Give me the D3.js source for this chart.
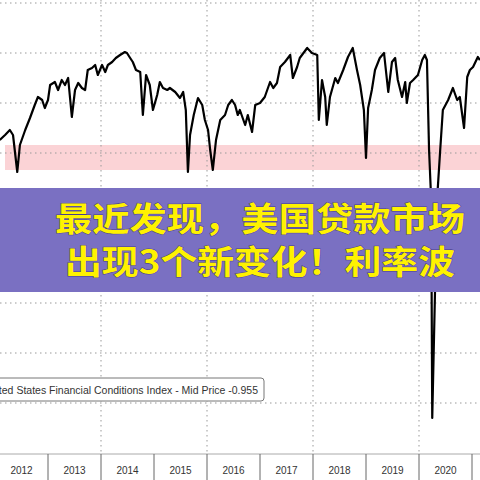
<!DOCTYPE html>
<html lang="en">
<head>
<meta charset="UTF-8">
<script src="https://cdn.jsdelivr.net/npm/d3@7"></script>
<style>body{margin:0;background:#fff;overflow:hidden}</style>
</head>
<body>
<script>
const dates = [
  2012.09,2012.19,2012.28,2012.34,2012.42,2012.47,2012.57,2012.66,2012.75,2012.81,
  2012.89,2012.94,2013.00,2013.04,2013.13,2013.19,2013.26,2013.32,2013.38,2013.45,
  2013.51,2013.57,2013.64,2013.70,2013.75,2013.83,2013.89,2013.94,2014.02,2014.08,
  2014.13,2014.21,2014.28,2014.36,2014.45,2014.49,2014.55,2014.60,2014.66,2014.74,
  2014.79,2014.85,2014.92,2014.98,2015.06,2015.11,2015.17,2015.25,2015.30,2015.40,
  2015.49,2015.55,2015.60,2015.64,2015.68,2015.75,2015.83,2015.91,2015.96,2016.02,
  2016.06,2016.11,2016.17,2016.25,2016.34,2016.40,2016.47,2016.53,2016.58,2016.62,
  2016.72,2016.77,2016.85,2016.91,2017.00,2017.09,2017.19,2017.25,2017.32,2017.38,
  2017.47,2017.57,2017.62,2017.70,2017.75,2017.89,2017.98,2018.08,2018.11,2018.17,
  2018.23,2018.26,2018.32,2018.42,2018.47,2018.57,2018.66,2018.75,2018.83,2018.89,
  2018.96,2019.00,2019.04,2019.11,2019.17,2019.26,2019.34,2019.42,2019.49,2019.55,
  2019.60,2019.68,2019.74,2019.77,2019.83,2019.89,2019.98,2020.06,2020.11,2020.15,
  2020.19,2020.23,2020.25,2020.34,2020.40,2020.45,2020.55,2020.64,2020.72,2020.77,
  2020.85,2020.91,2020.96,2021.02,2021.11,2021.15
];
const fci = [
  0.26,0.36,0.46,0.36,-0.38,0.16,0.46,0.70,0.96,1.12,
  1.06,0.90,1.06,1.36,1.42,1.26,1.46,1.36,1.50,0.72,
  1.26,1.40,1.30,1.26,1.66,1.70,1.76,1.56,1.76,1.62,
  1.76,1.82,1.90,1.96,2.02,2.00,1.90,1.82,1.66,1.62,
  0.76,1.56,1.36,0.86,1.16,1.42,1.30,1.26,1.30,1.22,
  1.10,1.22,0.86,-0.38,0.36,0.76,1.10,0.96,0.66,0.46,
  0.06,-0.34,0.26,0.66,0.76,0.96,1.06,0.96,0.76,0.86,
  0.56,0.76,0.42,0.96,1.00,1.12,1.42,1.30,1.40,1.72,
  1.82,1.96,1.50,1.72,1.90,2.10,2.00,1.96,0.66,1.46,
  1.12,0.56,1.12,1.50,1.40,1.66,1.92,2.10,1.66,1.36,
  0.86,-0.10,0.90,1.26,1.66,1.90,2.00,1.22,1.82,1.90,
  1.46,1.12,1.42,1.00,1.40,1.46,1.56,1.86,1.96,1.86,
  0.06,-0.94,-5.30,-0.94,0.06,0.86,1.06,1.30,1.06,1.12,
  0.50,1.52,1.66,1.72,1.92,1.86
];
const years = [2012,2013,2014,2015,2016,2017,2018,2019,2020,2021];
const gridValues = [3,2,1,0,-1,-2,-3,-4,-5];
const majorYears = [2014,2016,2018,2020];
const band = [0.16,-0.34];
const legendText = "United States Financial Conditions Index - Mid Price -0.955";
const overlayLines = ["最近发现，美国贷款市场","出现3个新变化！利率波"];

const W = 480, H = 480;
const x = d3.scaleLinear().domain([2012, 2021]).range([-5, 472]);
const y = d3.scaleLinear().domain([3, -6]).range([3, 453]);

const svg = d3.select("body").append("svg").attr("width", W).attr("height", H)
  .style("font-family", "'Liberation Sans', Arial, sans-serif");

// pink band
svg.append("rect").attr("x", 5).attr("width", W - 5)
  .attr("y", y(band[0])).attr("height", y(band[1]) - y(band[0]))
  .attr("fill", "#fbd3d6");

// grid
svg.append("g").selectAll("line").data(gridValues).join("line")
  .attr("x1", 0).attr("x2", W).attr("y1", d => y(d)).attr("y2", d => y(d))
  .attr("stroke", "#999").attr("stroke-dasharray", "1.5,3.5");
svg.append("g").selectAll("line").data(majorYears).join("line")
  .attr("x1", d => x(d)).attr("x2", d => x(d)).attr("y1", 0).attr("y2", y(-6))
  .attr("stroke", "#999").attr("stroke-dasharray", "1.5,3.5");

// axis
svg.append("line").attr("x1", 0).attr("x2", W).attr("y1", y(-6) + 1).attr("y2", y(-6) + 1)
  .attr("stroke", "#aaa");
svg.append("g").selectAll("line").data(years.slice(1)).join("line")
  .attr("x1", d => x(d)).attr("x2", d => x(d)).attr("y1", y(-6) + 1).attr("y2", H)
  .attr("stroke", "#666");
svg.append("g").selectAll("text").data(years).join("text")
  .attr("x", d => x(d + 0.5)).attr("y", 474).attr("text-anchor", "middle")
  .attr("font-size", 10).attr("fill", "#333").text(d => d);

// line
const pts = dates.map((d, i) => [d, fci[i]]);
svg.append("path").datum(pts)
  .attr("d", d3.line().x(d => x(d[0])).y(d => y(d[1])))
  .attr("fill", "none").attr("stroke", "#000").attr("stroke-width", 2.2)
  .attr("stroke-linejoin", "round");

// legend box
svg.append("rect").attr("x", -10).attr("y", 378).attr("width", 274).attr("height", 23)
  .attr("rx", 3).attr("fill", "#fff").attr("stroke", "#777");
svg.append("text").attr("x", 258).attr("y", 394).attr("text-anchor", "end")
  .attr("font-size", 10.5).attr("fill", "#333").text(legendText);

// purple overlay
svg.append("rect").attr("x", 0).attr("y", 188).attr("width", W).attr("height", 104)
  .attr("fill", "#7a70c2");
const spans = [[55, 410], [65, 390]];
svg.append("g").selectAll("text").data(overlayLines).join("text")
  .attr("x", (d, i) => spans[i][0]).attr("y", (d, i) => 231 + i * 43)
  .attr("textLength", (d, i) => spans[i][1]).attr("lengthAdjust", "spacingAndGlyphs")
  .attr("font-family", "'Noto Sans CJK SC', sans-serif").attr("font-weight", "bold")
  .attr("font-size", 33).attr("fill", "#fff200")
  .style("paint-order", "stroke").attr("stroke", "#4a3f8a").attr("stroke-width", 1)
  .text(d => d);
</script>
</body>
</html>
